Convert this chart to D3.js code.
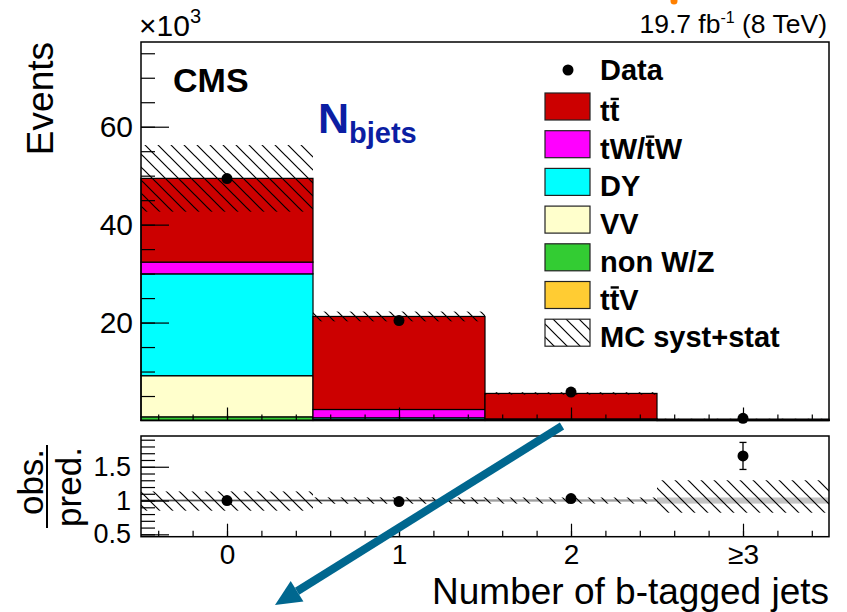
<!DOCTYPE html>
<html lang="en">
<head>
  <meta charset="UTF-8">
  <title>Number of b-tagged jets</title>
  <script src="https://d3js.org/d3.v7.min.js"></script>
  <style>
    body { margin: 0; background: #fff; }
    svg { display: block; font-family: "Liberation Sans", Arial, Helvetica, sans-serif; }
    .tick line { stroke: #000; stroke-width: 1.2; }
    .tick text { fill: #000; }
  </style>
</head>
<body>
<svg width="847" height="612"></svg>

<script>
// bins (number of b-tagged jets)
const binCenters = [0, 1, 2, 3];
const binLabels = ["0", "1", "2", "\u22653"];

// stacked MC, in units of 10^3 events (bottom to top)
const ttV   = [0.05, 0.05, 0.03, 0.01];
const nonWZ = [0.7, 0.05, 0.01, 0.002];
const vv    = [8.4, 0.1, 0.01, 0.002];
const dy    = [20.8, 0.35, 0.03, 0.005];
const tW    = [2.4, 1.7, 0.25, 0.02];
const ttbar = [17.1, 19.0, 5.2, 0.25];
const mcUnc = [6.8, 1.0, 0.25, 0.07];

// data
const dataVals = [49.4, 20.4, 5.8, 0.45];

// ratio panel
const ratio       = [1.0, 0.985, 1.03, 1.66];
const ratioErr    = [0.006, 0.008, 0.015, 0.2];
const ratioUncUp  = [0.135, 0.047, 0.045, 0.3];
const ratioUncDn  = [0.15, 0.047, 0.045, 0.18];
const ratioStat   = [0.003, 0.003, 0.006, 0.045];

// tick values
const upperMajor = [20, 40, 60];
const upperMinor = d3.range(5, 77, 5);
const lowerMajor = [0.5, 1, 1.5];
const lowerMinor = d3.range(0.5, 1.95, 0.1);
const xMinor = d3.range(-0.4, 3.5, 0.2);

const svg = d3.select("svg");
const fontBase = "'Liberation Sans', Arial, Helvetica, sans-serif";

const x = d3.scaleLinear().domain([-0.5, 3.5]).range([141, 829]);
const yUp = d3.scaleLinear().domain([0, 77.3]).range([420.5, 42]);
const yLo = d3.scaleLinear().domain([0.465, 1.955]).range([536.7, 436]);
const halfBin = 0.5;

// hatch pattern
const defs = svg.append("defs");
const pat = defs.append("pattern")
  .attr("id", "hatch")
  .attr("patternUnits", "userSpaceOnUse")
  .attr("width", 13).attr("height", 13);
pat.append("path")
  .attr("d", "M0,0L13,13M-3,10L3,16M10,-3L16,3")
  .attr("stroke", "#000").attr("stroke-width", 1.2);

// ---- upper panel ----
const samples = [
  {name: "ttV", vals: ttV, color: "#ffcc33"},
  {name: "nonWZ", vals: nonWZ, color: "#33cc33"},
  {name: "VV", vals: vv, color: "#ffffcc"},
  {name: "DY", vals: dy, color: "#00ffff"},
  {name: "tW", vals: tW, color: "#ff00ff"},
  {name: "tt", vals: ttbar, color: "#cc0000"}
];

const upper = svg.append("g");
const totals = binCenters.map(() => 0);
samples.forEach(s => {
  binCenters.forEach((c, i) => {
    const lo = totals[i], hi = totals[i] + s.vals[i];
    totals[i] = hi;
    upper.append("rect")
      .attr("x", x(c - halfBin))
      .attr("width", x(c + halfBin) - x(c - halfBin))
      .attr("y", yUp(hi))
      .attr("height", yUp(lo) - yUp(hi))
      .attr("fill", s.color)
      .attr("stroke", "#000")
      .attr("stroke-width", 1.2);
  });
});

// MC uncertainty hatch
upper.selectAll(".unc")
  .data(binCenters)
  .enter().append("rect")
  .attr("x", d => x(d - halfBin))
  .attr("width", d => x(d + halfBin) - x(d - halfBin))
  .attr("y", (d, i) => yUp(totals[i] + mcUnc[i]))
  .attr("height", (d, i) => yUp(totals[i] - mcUnc[i]) - yUp(totals[i] + mcUnc[i]))
  .attr("fill", "url(#hatch)");

// axes upper
const yUpMinor = d3.axisLeft(yUp).tickValues(upperMinor).tickSize(-14).tickFormat("");
upper.append("g").attr("transform", "translate(141,0)").call(yUpMinor).call(g => g.select(".domain").remove());
const yUpMajor = d3.axisLeft(yUp).tickValues(upperMajor).tickSize(-28).tickPadding(8);
upper.append("g").attr("transform", "translate(141,0)").call(yUpMajor)
  .call(g => g.select(".domain").remove())
  .selectAll("text").style("font-size", "30px").style("font-family", fontBase);

upper.append("g").attr("transform", "translate(0,420.5)")
  .call(d3.axisBottom(x).tickValues(xMinor).tickSize(-6).tickFormat(""))
  .call(g => g.select(".domain").remove());
upper.append("g").attr("transform", "translate(0,420.5)")
  .call(d3.axisBottom(x).tickValues(binCenters).tickSize(-13).tickFormat(""))
  .call(g => g.select(".domain").remove());

upper.append("rect")
  .attr("x", 141).attr("y", 42)
  .attr("width", 829 - 141).attr("height", 420.5 - 42)
  .attr("fill", "none").attr("stroke", "#000").attr("stroke-width", 1.5);

// data points
upper.selectAll(".pt")
  .data(dataVals)
  .enter().append("circle")
  .attr("cx", (d, i) => x(binCenters[i]))
  .attr("cy", d => yUp(d))
  .attr("r", 5.5)
  .attr("fill", "#000");

// ---- lower panel ----
const lower = svg.append("g");
lower.append("line")
  .attr("x1", x(-0.5)).attr("x2", x(3.5))
  .attr("y1", yLo(1)).attr("y2", yLo(1))
  .attr("stroke", "#000").attr("stroke-width", 1.5);

lower.selectAll(".stat")
  .data(binCenters)
  .enter().append("rect")
  .attr("x", d => x(d - halfBin))
  .attr("width", d => x(d + halfBin) - x(d - halfBin))
  .attr("y", (d, i) => yLo(1 + ratioStat[i]))
  .attr("height", (d, i) => yLo(1 - ratioStat[i]) - yLo(1 + ratioStat[i]))
  .attr("fill", "#c4c4c4");

lower.selectAll(".runc")
  .data(binCenters)
  .enter().append("rect")
  .attr("x", d => x(d - halfBin))
  .attr("width", d => x(d + halfBin) - x(d - halfBin))
  .attr("y", (d, i) => yLo(1 + ratioUncUp[i]))
  .attr("height", (d, i) => yLo(1 - ratioUncDn[i]) - yLo(1 + ratioUncUp[i]))
  .attr("fill", "url(#hatch)");

const yLoMinor = d3.axisLeft(yLo).tickValues(lowerMinor).tickSize(-14).tickFormat("");
lower.append("g").attr("transform", "translate(141,0)").call(yLoMinor).call(g => g.select(".domain").remove());
const yLoMajor = d3.axisLeft(yLo).tickValues(lowerMajor).tickSize(-28).tickPadding(10)
  .tickFormat(d => d === 1 ? "1" : d3.format(".1f")(d));
lower.append("g").attr("transform", "translate(141,0)").call(yLoMajor)
  .call(g => g.select(".domain").remove())
  .selectAll("text").style("font-size", "27px").style("font-family", fontBase);

lower.append("g").attr("transform", "translate(0,536.7)")
  .call(d3.axisBottom(x).tickValues(xMinor).tickSize(-6).tickFormat(""))
  .call(g => g.select(".domain").remove());
lower.append("g").attr("transform", "translate(0,536.7)")
  .call(d3.axisBottom(x).tickValues(binCenters).tickSize(-13).tickPadding(7)
    .tickFormat((d, i) => binLabels[i]))
  .call(g => g.select(".domain").remove())
  .selectAll("text").style("font-size", "28px").style("font-family", fontBase);

lower.append("rect")
  .attr("x", 141).attr("y", 436)
  .attr("width", 829 - 141).attr("height", 536.7 - 436)
  .attr("fill", "none").attr("stroke", "#000").attr("stroke-width", 1.5);

// ratio points with error bars
binCenters.forEach((c, i) => {
  const cx = x(c);
  lower.append("line")
    .attr("x1", cx).attr("x2", cx)
    .attr("y1", yLo(ratio[i] + ratioErr[i])).attr("y2", yLo(ratio[i] - ratioErr[i]))
    .attr("stroke", "#000").attr("stroke-width", 1.3);
  [ratio[i] + ratioErr[i], ratio[i] - ratioErr[i]].forEach(v => {
    lower.append("line")
      .attr("x1", cx - 3.5).attr("x2", cx + 3.5)
      .attr("y1", yLo(v)).attr("y2", yLo(v))
      .attr("stroke", "#000").attr("stroke-width", 1.3);
  });
  lower.append("circle")
    .attr("cx", cx).attr("cy", yLo(ratio[i]))
    .attr("r", 5.5).attr("fill", "#000");
});

// ---- texts ----
function addText(t, xx, yy, size, opts = {}) {
  return svg.append("text")
    .attr("x", xx).attr("y", yy)
    .attr("text-anchor", opts.anchor || "start")
    .attr("transform", opts.rotate ? `rotate(${opts.rotate},${xx},${yy})` : null)
    .style("font-size", size + "px")
    .style("font-weight", opts.bold ? "bold" : "normal")
    .style("fill", opts.color || "#000")
    .style("font-family", fontBase)
    .text(t);
}

addText("Events", 53, 42, 37, {anchor: "end", rotate: -90});
addText("Number of b-tagged jets", 829, 604, 37, {anchor: "end"});

const mult = addText("\u00d710", 139, 36, 30);
mult.append("tspan").attr("dy", -13).style("font-size", "20px").text("3");

const lumi = addText("19.7 fb", 827, 33, 26.5, {anchor: "end"});
lumi.append("tspan").attr("dy", -10).style("font-size", "16px").text("-1");
lumi.append("tspan").attr("dy", 10).text(" (8 TeV)");

addText("CMS", 173, 92, 34, {bold: true});
const nb = addText("N", 318, 133, 43, {bold: true, color: "#0b1ea3"});
nb.append("tspan").attr("dy", 10).style("font-size", "29px").text("bjets");

// obs./pred. fraction
addText("obs.", 43, 482, 35, {anchor: "middle", rotate: -90});
addText("pred.", 81, 487, 35, {anchor: "middle", rotate: -90});
svg.append("line")
  .attr("x1", 47).attr("x2", 47).attr("y1", 445).attr("y2", 528)
  .attr("stroke", "#000").attr("stroke-width", 2);

// ---- legend ----
const legendItems = [
  {label: "tt", bars: [1], color: "#cc0000"},
  {label: "tW/tW", bars: [3], color: "#ff00ff"},
  {label: "DY", bars: [], color: "#00ffff"},
  {label: "VV", bars: [], color: "#ffffcc"},
  {label: "non W/Z", bars: [], color: "#33cc33"},
  {label: "ttV", bars: [1], color: "#ffcc33"},
  {label: "MC syst+stat", bars: [], color: "url(#hatch)"}
];
const legX = 545, legY0 = 93, legStep = 37.7, fs = 29;
svg.append("circle").attr("cx", 568).attr("cy", 70).attr("r", 5.5).attr("fill", "#000");
addText("Data", 600, 80, fs, {bold: true});
legendItems.forEach((it, i) => {
  const yy = legY0 + i * legStep;
  svg.append("rect")
    .attr("x", legX).attr("y", yy)
    .attr("width", 45).attr("height", 27)
    .attr("fill", it.color)
    .attr("stroke", "#222").attr("stroke-width", 1.2);
  const t = addText(it.label, 600, yy + 28, fs, {bold: true});
  it.bars.forEach(ci => {
    const e = t.node().getExtentOfChar(ci);
    svg.append("line")
      .attr("x1", e.x + e.width * 0.1).attr("x2", e.x + e.width * 0.95)
      .attr("y1", yy + 28 - 0.76 * fs).attr("y2", yy + 28 - 0.76 * fs)
      .attr("stroke", "#000").attr("stroke-width", 2.4);
  });
});

// ---- annotation overlay (arrow + orange dot) ----
const arrow = {x1: 562, y1: 426, x2: 275, y2: 605, color: "#00678f"};
const ang = Math.atan2(arrow.y2 - arrow.y1, arrow.x2 - arrow.x1);
const headLen = 26, headW = 12;
const bx = arrow.x2 - headLen * Math.cos(ang), by = arrow.y2 - headLen * Math.sin(ang);
svg.append("line")
  .attr("x1", arrow.x1).attr("y1", arrow.y1)
  .attr("x2", bx).attr("y2", by)
  .attr("stroke", arrow.color).attr("stroke-width", 8);
svg.append("polygon")
  .attr("points", [
    [arrow.x2, arrow.y2],
    [bx + headW * Math.sin(ang), by - headW * Math.cos(ang)],
    [bx - headW * Math.sin(ang), by + headW * Math.cos(ang)]
  ].map(p => p.join(",")).join(" "))
  .attr("fill", arrow.color);
svg.append("circle").attr("cx", 674).attr("cy", 1).attr("r", 3.5).attr("fill", "#ff8000");
</script>
</body>
</html>
